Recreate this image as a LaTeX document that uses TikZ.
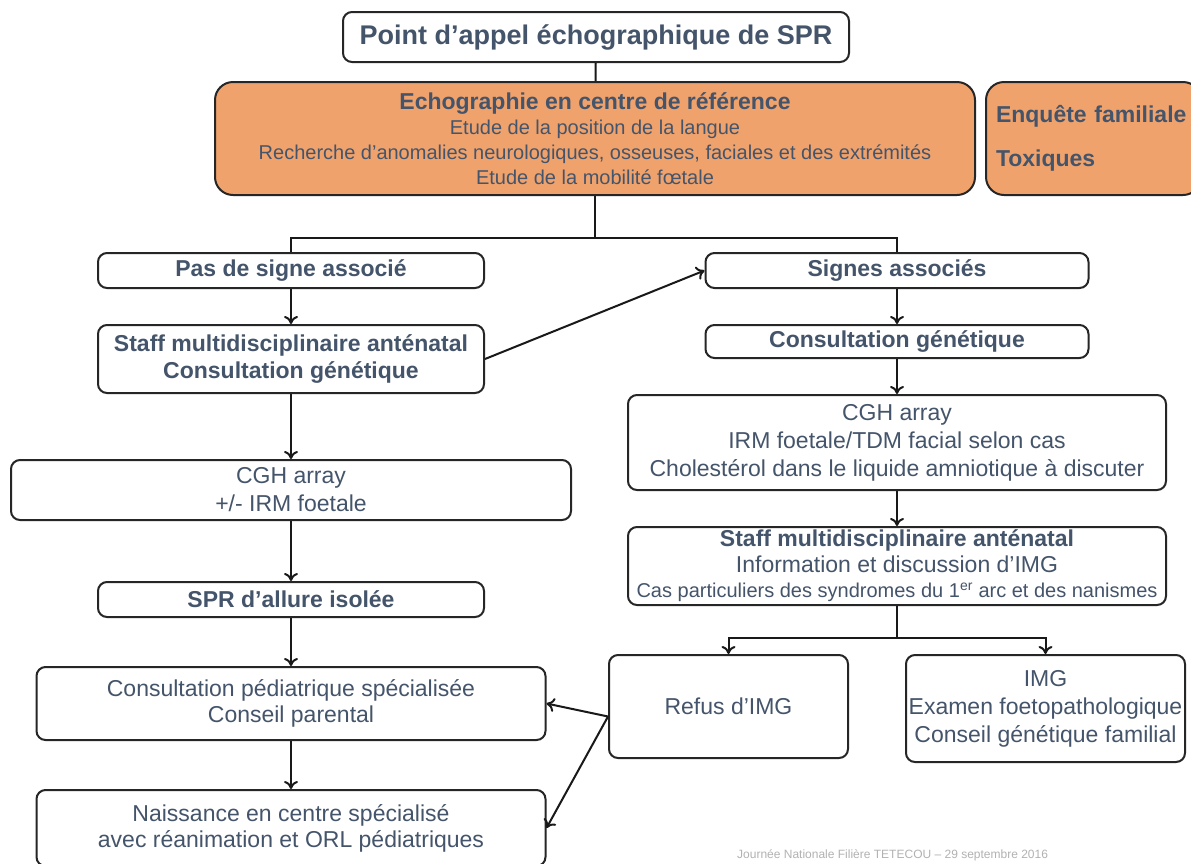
\documentclass[tikz,border=0pt]{standalone}
\usepackage{fontspec}
\setmainfont{Liberation Sans}
\definecolor{slate}{RGB}{68,84,106}
\definecolor{apricot}{RGB}{240,162,108}
\usetikzlibrary{calc, positioning, arrows.meta}

\begin{document}
\begin{tikzpicture}[
    x=1pt, y=-1pt,
    box/.style={draw=black!85, line width=2pt, rounded corners=9pt, fill=white,
      text=slate, align=center, inner sep=0pt, font=\fontsize{23}{28}\selectfont},
    head/.style={box, font=\bfseries\fontsize{23}{27}\selectfont},
    warm/.style={box, fill=apricot, rounded corners=18pt},
    arr/.style={-{To[length=8pt,width=14pt]}, line width=2pt, draw=black!90},
    link/.style={line width=2pt, draw=black!90},
  ]
  \useasboundingbox (0,0) rectangle (1191,863);
  \fill[white] (0,0) rectangle (1191,863);

  % top of the chart
  \node[head, minimum width=506pt, minimum height=50pt,
    font=\bfseries\fontsize{27}{30}\selectfont] (point) at (596,37) {Point d’appel échographique de SPR};
  \node[warm, minimum width=760pt, minimum height=113pt, font=\fontsize{20}{25}\selectfont] (echo) at (595,138.5)
    {{\bfseries\fontsize{23}{25}\selectfont Echographie en centre de référence}\\
     Etude de la position de la langue\\
     Recherche d’anomalies neurologiques, osseuses, faciales et des extrémités\\
     Etude de la mobilité fœtale};
  \node[warm, text width=195pt, inner xsep=10pt, minimum height=113pt, align=left,
    font=\bfseries\fontsize{23}{28}\selectfont] (enquete) at (1093.5,138.5)
    {Enquête familiale\\[16pt] Toxiques};

  % left branch
  \node[head, minimum width=386pt, minimum height=35pt] (pas) at (291,270.5) {Pas de signe associé};
  \node[head, minimum width=386pt, minimum height=68pt] (staffL) at (291,359)
    {Staff multidisciplinaire anténatal\\ Consultation génétique};
  \node[box, minimum width=560pt, minimum height=60pt] (cghL) at (291,490) {CGH array\\ +/- IRM foetale};
  \node[head, minimum width=386pt, minimum height=35pt] (spr) at (291,599.5) {SPR d’allure isolée};
  \node[box, minimum width=509pt, minimum height=73pt, font=\fontsize{23}{26}\selectfont] (consP) at (291,703.5)
    {Consultation pédiatrique spécialisée\\ Conseil parental};
  \node[box, minimum width=509pt, minimum height=76pt, font=\fontsize{23}{26}\selectfont] (naiss) at (291,828)
    {Naissance en centre spécialisé\\ avec réanimation et ORL pédiatriques};

  % right branch
  \node[head, minimum width=383pt, minimum height=35pt] (signes) at (897,270.5) {Signes associés};
  \node[head, minimum width=383pt, minimum height=33pt] (consG) at (897,341.5) {Consultation génétique};
  \node[box, minimum width=538pt, minimum height=95pt] (cghR) at (897,442.5)
    {CGH array\\ IRM foetale/TDM facial selon cas\\ Cholestérol dans le liquide amniotique à discuter};
  \node[box, minimum width=538pt, minimum height=78pt, font=\fontsize{23}{25.5}\selectfont] (staffR) at (897,566)
    {\textbf{Staff multidisciplinaire anténatal}\\ Information et discussion d’IMG\\
     {\fontsize{20}{25.5}\selectfont Cas particuliers des syndromes du 1\textsuperscript{er} arc et des nanismes}};
  \node[box, minimum width=239pt, minimum height=103pt] (refus) at (728.5,706.5) {Refus d’IMG};
  \node[box, minimum width=279pt, minimum height=107pt] (img) at (1045.5,708.5)
    {IMG\\ Examen foetopathologique\\ Conseil génétique familial};

  \node[anchor=base west, text=black!30, font=\fontsize{12}{14}\selectfont, inner sep=0pt] (footer) at (737,858)
    {Journée Nationale Filière TETECOU -- 29 septembre 2016};

  % connectors
  \coordinate (split) at ($(echo.south)+(0,42)$);
  \coordinate (fork) at ($(staffR.south)+(0,32)$);
  \draw[link] (point) -- (echo);
  \draw[link] (echo.south) -- (split);
  \draw[link] (pas.north) |- (split) -| (signes.north);
  \draw[arr] (pas) -- (staffL);
  \draw[arr] (staffL.east) -- (signes.west);
  \draw[arr] (staffL) -- (cghL);
  \draw[arr] (cghL) -- (spr);
  \draw[arr] (spr) -- (consP);
  \draw[arr] (consP) -- (naiss);
  \draw[arr] (signes) -- (consG);
  \draw[arr] (consG) -- (cghR);
  \draw[arr] (cghR) -- (staffR);
  \draw[link] (staffR.south) -- (fork);
  \draw[arr] (fork) -| (refus.north);
  \draw[arr] (fork) -| (img.north);
  \draw[arr] ([yshift=-10pt]refus.west) -- (consP.east);
  \draw[arr] ([yshift=-10pt]refus.west) -- (naiss.east);
\end{tikzpicture}
\end{document}
